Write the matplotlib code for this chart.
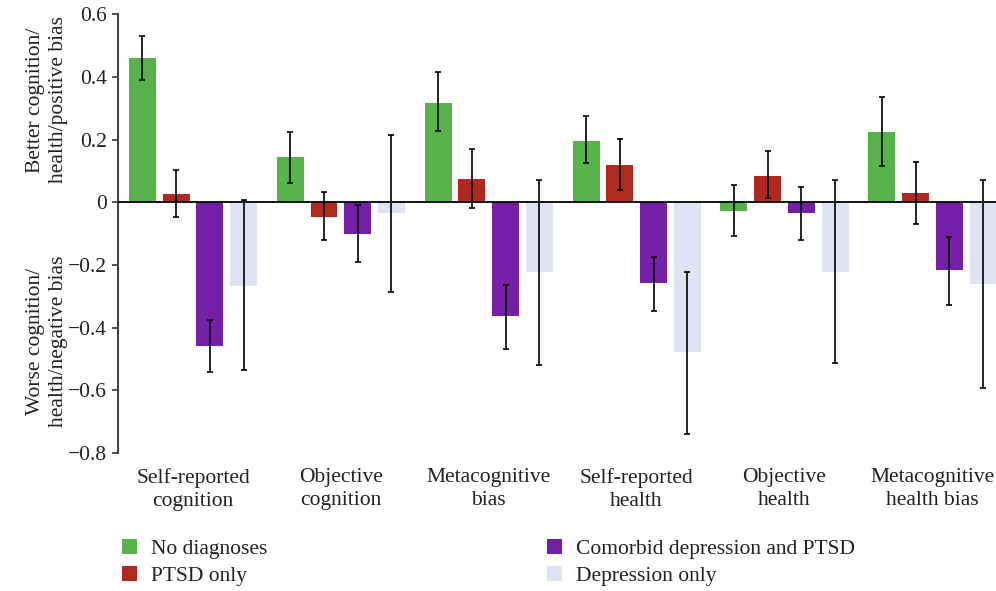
import numpy as np
import matplotlib
matplotlib.use("Agg")
import matplotlib.pyplot as plt
from matplotlib.patches import Patch
from matplotlib.ticker import FuncFormatter

# categories and series
categories = ["Self-reported\ncognition", "Objective\ncognition", "Metacognitive\nbias",
              "Self-reported\nhealth", "Objective\nhealth", "Metacognitive\nhealth bias"]
series = ["No diagnoses", "PTSD only", "Comorbid depression and PTSD", "Depression only"]
colors = ["#57b34a", "#b0291f", "#751fa8", "#e0e4f2"]

no_diag = [0.46, 0.145, 0.318, 0.195, -0.027, 0.224]
no_diag_lo = [0.39, 0.06, 0.227, 0.125, -0.108, 0.117]
no_diag_hi = [0.53, 0.225, 0.415, 0.275, 0.056, 0.336]

ptsd = [0.027, -0.046, 0.074, 0.119, 0.084, 0.03]
ptsd_lo = [-0.048, -0.12, -0.018, 0.038, 0.015, -0.069]
ptsd_hi = [0.104, 0.032, 0.17, 0.202, 0.162, 0.13]

comorbid = [-0.458, -0.10, -0.363, -0.257, -0.033, -0.215]
comorbid_lo = [-0.542, -0.19, -0.468, -0.346, -0.119, -0.328]
comorbid_hi = [-0.377, -0.01, -0.264, -0.174, 0.049, -0.112]

depr = [-0.266, -0.035, -0.223, -0.477, -0.221, -0.26]
depr_lo = [-0.536, -0.285, -0.52, -0.738, -0.512, -0.592]
depr_hi = [0.006, 0.215, 0.07, -0.221, 0.072, 0.072]

values = [no_diag, ptsd, comorbid, depr]
lows = [no_diag_lo, ptsd_lo, comorbid_lo, depr_lo]
highs = [no_diag_hi, ptsd_hi, comorbid_hi, depr_hi]

plt.rcParams["font.family"] = ["Liberation Serif", "DejaVu Serif"]
FS = 15.5
TXT = "#222222"

fig = plt.figure(figsize=(9.96, 5.91), dpi=100)
ax = fig.add_axes([0.1185, 0.2335, 0.8815, 0.7425])

x = np.arange(len(categories))
step = 0.228
width = 0.182
for i in range(4):
    v = np.array(values[i])
    yerr = [v - np.array(lows[i]), np.array(highs[i]) - v]
    pos = x + (i - 1.5) * step
    ax.bar(pos, v, width=width, color=colors[i], zorder=2)
    ax.errorbar(pos, v, yerr=yerr, fmt="none", ecolor="black", elinewidth=1.2,
                capsize=2.3, capthick=1.2, zorder=4)

ax.axhline(0, color="black", lw=1.3, zorder=3)
ax.set_xlim(-0.507, 5.43)
ax.set_ylim(-0.8, 0.6)
ax.set_yticks(np.arange(-0.8, 0.61, 0.2))
ax.yaxis.set_major_formatter(FuncFormatter(
    lambda v, p: "0" if abs(v) < 1e-9 else f"{v:.1f}".replace("-", "\u2212")))
ax.set_xticks(x)
ax.set_xticklabels(categories, fontsize=FS, color=TXT, linespacing=1.25)
ax.tick_params(axis="x", length=0, pad=11)
ax.tick_params(axis="y", direction="out", length=4, width=1.3, color="#444444",
               labelsize=FS, labelcolor=TXT, pad=4)
for s in ["top", "right", "bottom"]:
    ax.spines[s].set_visible(False)
ax.spines["left"].set_color("#444444")
ax.spines["left"].set_linewidth(1.5)

fig.text(0.047, 0.831, "Better cognition/\nhealth/positive bias", rotation=90,
         ha="center", va="center", fontsize=FS, color=TXT, linespacing=1.25)
fig.text(0.047, 0.423, "Worse cognition/\nhealth/negative bias", rotation=90,
         ha="center", va="center", fontsize=FS, color=TXT, linespacing=1.25)

handles = [Patch(facecolor=c, edgecolor="none") for c in colors]
leg_kw = dict(frameon=False, fontsize=FS, handlelength=0.7, handleheight=0.7,
              handletextpad=0.65, labelspacing=0.3, borderaxespad=0, borderpad=0)
l1 = fig.legend(handles[:2], series[:2], loc="upper left",
                bbox_to_anchor=(0.122, 0.088), **leg_kw)
l2 = fig.legend(handles[2:], series[2:], loc="upper left",
                bbox_to_anchor=(0.549, 0.088), **leg_kw)
for t in l1.get_texts() + l2.get_texts():
    t.set_color(TXT)

fig.savefig("out.png", dpi=100)
